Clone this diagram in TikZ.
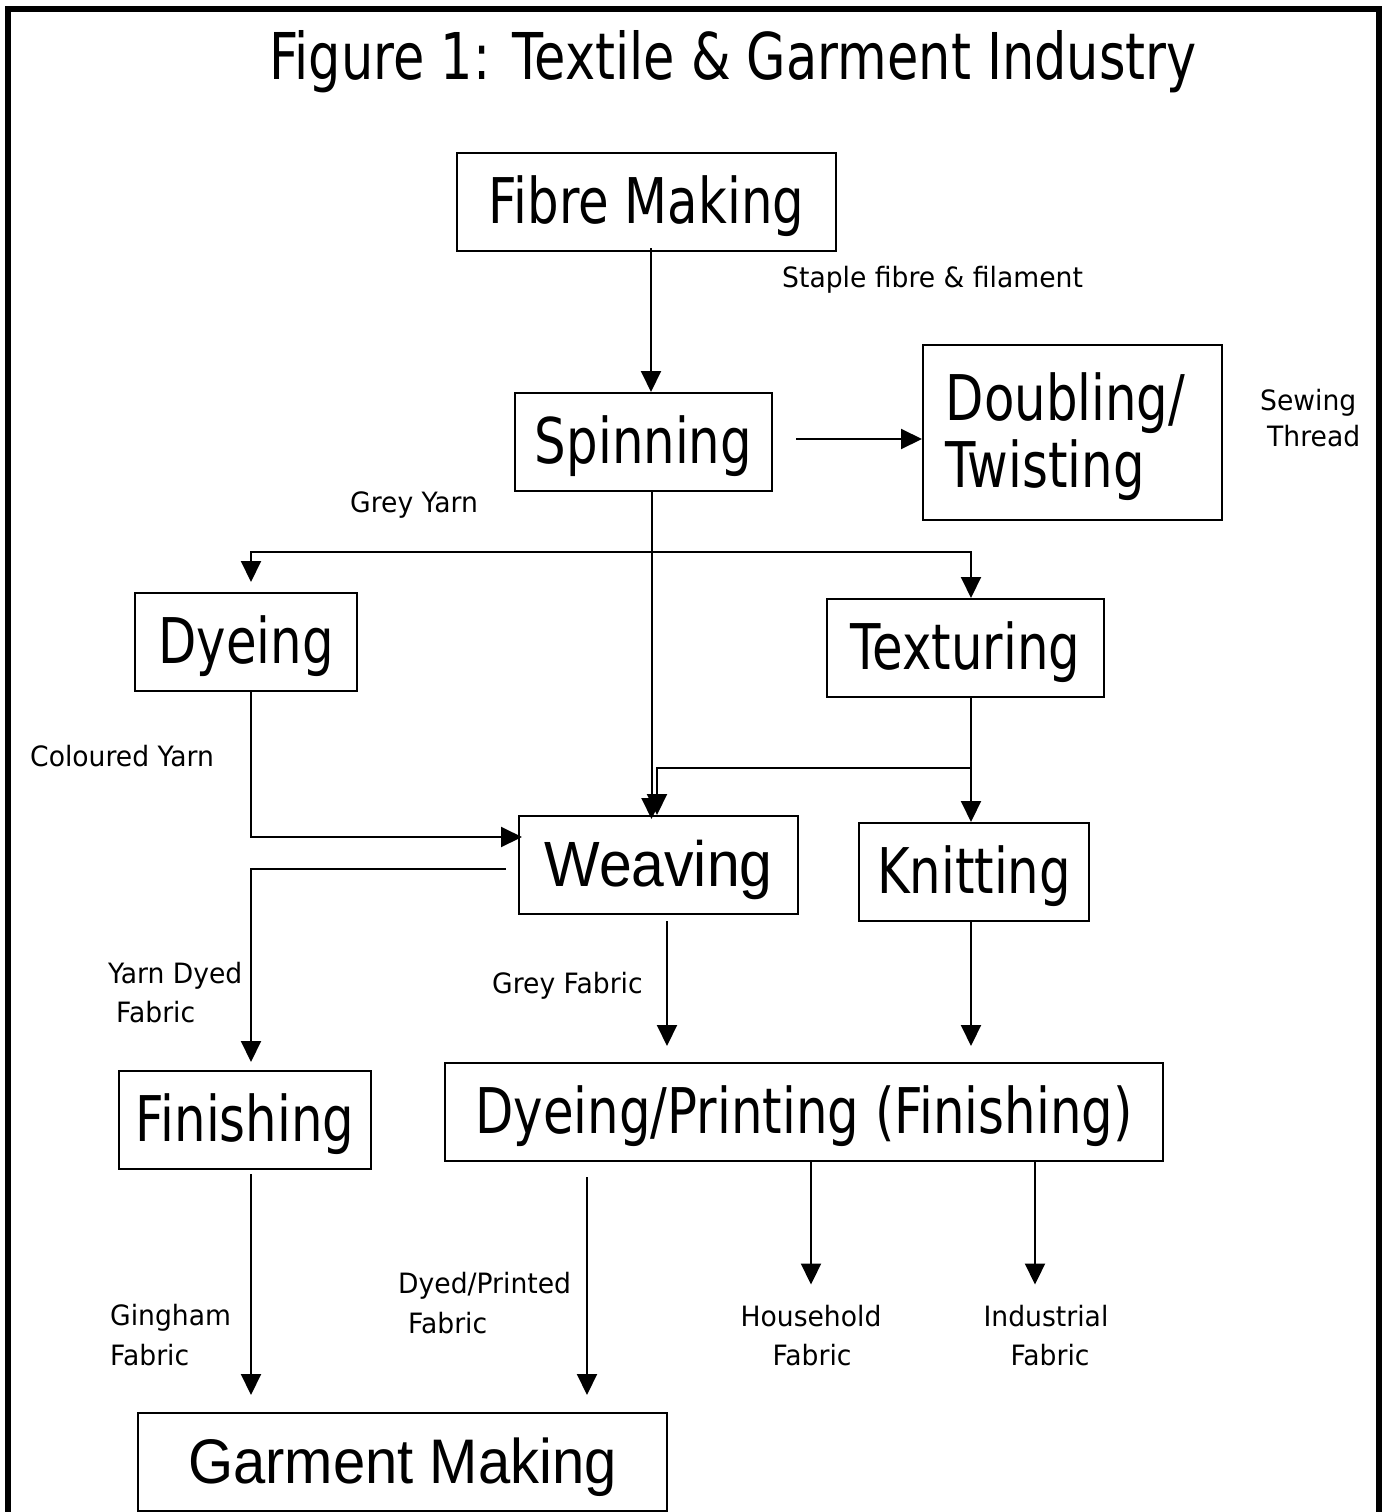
\documentclass[tikz,border=0pt]{standalone}
\usepackage{fontspec}
\setmainfont{DejaVu Sans}
\newfontfamily\boxfont{DejaVu Sans}[FakeStretch=0.79]
\newfontfamily\labfont{DejaVu Sans}[FakeStretch=0.95]
\newfontfamily\arialfont{Liberation Sans}[FakeStretch=0.92]
\usetikzlibrary{arrows.meta,calc}
\begin{document}
\begin{tikzpicture}[x=1pt,y=-1pt,
  box/.style={draw, line width=2pt, inner sep=0pt, minimum height=98pt,
    text height=70pt, text depth=28pt, font=\boxfont\fontsize{63}{67}\selectfont},
  lab/.style={inner sep=0pt, font=\labfont\fontsize{28}{34}\selectfont},
  arr/.style={line width=2pt, -{Triangle[length=21pt,width=20pt]}}]
\useasboundingbox (0,0) rectangle (1382,1512);
\fill[white] (0,0) rectangle (1382,1512);
\draw[line width=6pt] (7.5,1530) -- (7.5,9.5) -- (1378.5,9.5) -- (1378.5,1530);

\node[inner sep=0pt, anchor=base, font=\boxfont\fontsize{64.5}{70}\selectfont] (title) at (733,80) {Figure 1: Textile \& Garment Industry};

% boxes
\node[box, minimum width=379pt] (fibre) at (646.5,202) {Fibre Making};
\node[box, minimum width=257pt] (spin) at (643.5,442) {Spinning};
\node[box, minimum width=299pt, minimum height=175pt, text height=75pt, text depth=100pt] (dbl) at (1072.5,432.5)
  {\hspace*{-14pt}\vtop{\baselineskip=67pt\hbox{Doubling/}\hbox{Twisting}}};
\node[box, minimum width=222pt] (dye) at (246,642) {Dyeing};
\node[box, minimum width=277pt] (tex) at (965.5,648) {Texturing};
\node[box, minimum width=279pt, font=\arialfont\fontsize{64}{68}\selectfont] (weave) at (658.5,865) {Weaving};
\node[box, minimum width=230pt] (knit) at (974,872) {Knitting};
\node[box, minimum width=252pt] (fin) at (245,1120) {Finishing};
\node[box, minimum width=718pt] (dp) at (804,1112) {Dyeing/Printing (Finishing)};
\node[box, minimum width=529pt, font=\arialfont\fontsize{63}{67}\selectfont] (garm) at (402.5,1462) {Garment Making};

% labels
\node[lab, anchor=base west] (staple) at (782,287) {Staple fibre \& filament};
\node[lab, anchor=base west] (greyyarn) at (350,512) {Grey Yarn};
\node[lab, anchor=base west] (sew1) at (1260,410) {Sewing};
\node[lab, anchor=base west] (sew2) at (1267,446) {Thread};
\node[lab, anchor=base west] (colyarn) at (30,766) {Coloured Yarn};
\node[lab, anchor=base west] (yd1) at (108,983) {Yarn Dyed};
\node[lab, anchor=base west] (yd2) at (116,1022) {Fabric};
\node[lab, anchor=base west] (greyfab) at (492,993) {Grey Fabric};
\node[lab, anchor=base west] (dp1) at (398,1293) {Dyed/Printed};
\node[lab, anchor=base west] (dp2) at (408,1333) {Fabric};
\node[lab, anchor=base west] (gin1) at (110,1325) {Gingham};
\node[lab, anchor=base west] (gin2) at (110,1365) {Fabric};
\node[lab, anchor=base] (hh1) at (811,1326) {Household};
\node[lab, anchor=base] (hh2) at (812,1365) {Fabric};
\node[lab, anchor=base] (ind1) at (1046,1326) {Industrial};
\node[lab, anchor=base] (ind2) at (1050,1365) {Fabric};

% connectors
\coordinate (gy) at ($(spin.south)+(8,60)$);
\draw[arr] ($(fibre.south)+(4.5,-4)$) -- ($(spin.north)+(7.5,0)$);
\draw[arr] ($(spin.east)+(23,-3)$) -- ($(dbl.west)+(0,6.5)$);
\draw[arr] ($(spin.south)+(8,0)$) -- ($(weave.north)+(-7,4)$);
\draw[arr] (gy) -| ($(dye.north)+(5,-10)$);
\draw[arr] (gy) -| ($(tex.north)+(5.5,0)$);
\draw[arr] ($(tex.south)+(5.5,0)$) -- ($(knit.north)+(-3,0)$);
\draw[arr] ($(tex.south)+(5.5,70)$) -| ($(weave.north)+(-1.5,0)$);
\draw[arr] ($(dye.south)+(5,0)$) |- ($(weave.west)+(4,-28)$);
\draw[arr] ($(weave.west)+(-12,4)$) -| ($(fin.north)+(6,-8)$);
\draw[arr] ($(weave.south)+(8.5,6)$) -- ($(dp.north)+(-137,-16)$);
\draw[arr] ($(knit.south)+(-3,0)$) -- ($(dp.north)+(167,-16)$);
\draw[arr] ($(fin.south)+(6,4)$) -- ($(garm.north)+(-151.5,-17)$);
\draw[arr] ($(dp.south)+(-217,15)$) -- ($(garm.north)+(184.5,-17)$);
\draw[arr] ($(dp.south)+(7,0)$) -- ($(hh1.north)+(0,-20)$);
\draw[arr] ($(dp.south)+(231,0)$) -- ($(ind1.north)+(-11,-20)$);
\end{tikzpicture}
\end{document}
